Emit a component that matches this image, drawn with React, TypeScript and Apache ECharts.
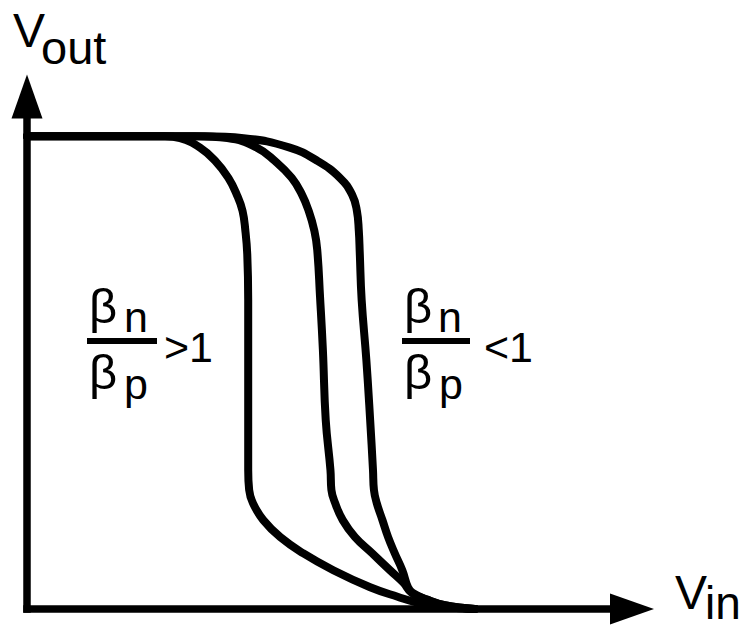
import React, { useEffect, useRef } from "react";
import * as echarts from "echarts";

// Inverter voltage transfer characteristic, V_DD = 5 V
const X_MAX = 6.4;
const Y_MAX = 5.42;

// βn/βp > 1 (switching point shifted left)
const vinHigh = [0, 1.46, 1.62, 1.83, 1.99, 2.13, 2.22, 2.28, 2.31, 2.33, 2.34, 2.34, 2.34, 2.35, 2.39, 2.5, 2.68, 2.92, 3.24, 3.63, 3.92, 4.16, 4.42, 4.74];
const voutHigh = [5, 5.0, 4.98, 4.88, 4.74, 4.56, 4.38, 4.21, 4.0, 3.75, 3.27, 2.21, 1.47, 1.26, 1.12, 0.94, 0.76, 0.59, 0.41, 0.23, 0.13, 0.06, 0.02, 0];

// symmetric inverter
const vinMid = [0, 1.78, 2.12, 2.43, 2.62, 2.8, 2.91, 2.98, 3.04, 3.07, 3.1, 3.13, 3.16, 3.21, 3.22, 3.26, 3.34, 3.47, 3.65, 3.84, 3.98, 4.07, 4.23, 4.42, 4.74];
const voutMid = [5, 5.0, 4.98, 4.88, 4.74, 4.56, 4.38, 4.21, 4.0, 3.8, 3.3, 2.74, 2.0, 1.47, 1.26, 1.12, 0.94, 0.76, 0.59, 0.41, 0.28, 0.17, 0.1, 0.04, 0];

// βn/βp < 1 (switching point shifted right)
const vinLow = [0, 1.88, 2.29, 2.78, 3.07, 3.31, 3.44, 3.49, 3.51, 3.52, 3.54, 3.59, 3.63, 3.66, 3.67, 3.7, 3.76, 3.82, 3.89, 3.97, 4.03, 4.08, 4.23, 4.42, 4.74];
const voutLow = [5, 5.0, 4.98, 4.88, 4.74, 4.56, 4.38, 4.21, 4.0, 3.77, 3.27, 2.63, 2.0, 1.47, 1.26, 1.12, 0.94, 0.76, 0.59, 0.41, 0.23, 0.17, 0.1, 0.04, 0];

const FONT = "Liberation Sans";

const zip = (xs: number[], ys: number[]) => xs.map((x, i) => [x, ys[i]]);

const curve = (name: string, xs: number[], ys: number[]) => ({
  name,
  type: "line",
  data: zip(xs, ys),
  showSymbol: false,
  smooth: 0.45,
  lineStyle: { color: "#000", width: 8, join: "round", cap: "round" },
  itemStyle: { color: "#000" },
  silent: true,
});

// text whose glyph baseline sits at `base`
const txt = (text: string, x: number, base: number, size: number) => ({
  type: "text",
  x,
  y: base - 0.3465 * size,
  style: {
    text,
    fill: "#000",
    fontFamily: FONT,
    fontSize: size,
    align: "left",
    verticalAlign: "middle",
  },
});

const bar = (x1: number, x2: number, y: number) => ({
  type: "line",
  shape: { x1, y1: y, x2, y2: y },
  style: { stroke: "#000", lineWidth: 6 },
});

export default function App() {
  const ref = useRef<HTMLDivElement>(null);

  useEffect(() => {
    if (!ref.current) return;
    const chart = echarts.init(ref.current, null, { renderer: "svg" });
    const axisLine = {
      show: true,
      onZero: true,
      symbol: ["none", "triangle"],
      symbolSize: [31, 44],
      lineStyle: { color: "#000", width: 7.5, cap: "square" },
    };
    chart.setOption({
      animation: false,
      backgroundColor: "#fff",
      grid: { left: 27, right: 111, top: 96.5, bottom: 20, containLabel: false },
      xAxis: {
        type: "value",
        min: 0,
        max: X_MAX,
        axisLine,
        axisTick: { show: false },
        axisLabel: { show: false },
        splitLine: { show: false },
      },
      yAxis: {
        type: "value",
        min: 0,
        max: Y_MAX,
        axisLine,
        axisTick: { show: false },
        axisLabel: { show: false },
        splitLine: { show: false },
      },
      series: [
        curve("βn/βp > 1", vinHigh, voutHigh),
        curve("βn/βp = 1", vinMid, voutMid),
        curve("βn/βp < 1", vinLow, voutLow),
      ],
      graphic: [
        txt("V", 13, 47, 48),
        txt("out", 41, 64, 47),
        txt("V", 675, 609, 48),
        txt("in", 705, 619, 46),
        // left ratio label
        txt("β", 89, 323, 49),
        txt("n", 124, 332, 43),
        bar(87, 157, 341),
        txt("β", 89, 389, 49),
        txt("p", 124, 399, 43),
        txt(">1", 164, 362, 43),
        // right ratio label
        txt("β", 404, 323, 49),
        txt("n", 438, 332, 43),
        bar(402, 470, 341),
        txt("β", 404, 389, 49),
        txt("p", 439, 399, 43),
        txt("<1", 484, 362, 43),
      ],
    });
    return () => chart.dispose();
  }, []);

  return (
    <div
      ref={ref}
      style={{ position: "absolute", left: 0, top: 0, width: 743, height: 629 }}
    />
  );
}
